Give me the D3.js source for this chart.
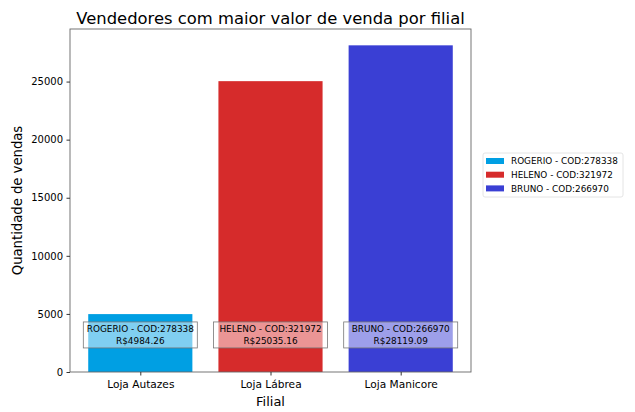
<!DOCTYPE html>
<html>
<head>
<meta charset="utf-8">
<script src="https://cdn.jsdelivr.net/npm/d3@7"></script>
<style>
  body { margin: 0; background: #fff; }
  text { font-family: "DejaVu Sans", sans-serif; fill: #000; }
</style>
</head>
<body>
<script>
var lojas = ['Loja Autazes', 'Loja Lábrea', 'Loja Manicore'];
var vendedores = ['ROGERIO - COD:278338', 'HELENO - COD:321972', 'BRUNO - COD:266970'];
var valores = [4984.26, 25035.16, 28119.09];
var cores = ['#009fe3', '#d62b2b', '#3a3fd4'];
var yTicks = [0, 5000, 10000, 15000, 20000, 25000];

var margin = { top: 29, left: 70 },
width = 401,
height = 343;

var svg = d3.select('body').
append('svg').
attr('width', 635).
attr('height', 412);

var g = svg.append('g').
attr('transform', 'translate(' + margin.left + ',' + margin.top + ')');

// same limits matplotlib gives a bar chart (5% margins)
var x = d3.scaleLinear().domain([-0.54, 2.54]).range([0, width]);
var y = d3.scaleLinear().domain([0, 28119.09 * 1.05]).range([height, 0]);
var barW = x(0.8) - x(0);

//bars
g.selectAll('.bar').
data(valores).
enter().
append('rect').
attr('class', 'bar').
attr('x', function (d, i) {return x(i) - barW / 2;}).
attr('y', function (d) {return y(d);}).
attr('width', barW).
attr('height', function (d) {return height - y(d);}).
style('fill', function (d, i) {return cores[i];});

//labels with boxes
var lab = g.selectAll('.lab').
data(valores).
enter().
append('g').
attr('class', 'lab').
attr('transform', function (d, i) {return 'translate(' + x(i) + ',' + y(3190) + ')';});

lab.append('rect').
attr('x', -57).
attr('y', -13).
attr('width', 114).
attr('height', 26).
style('fill', 'rgba(255,255,255,0.5)').
style('stroke', '#777').
style('stroke-width', 0.8);

lab.append('text').
attr('y', -3).
attr('text-anchor', 'middle').
style('font-size', '8.9px').
text(function (d, i) {return vendedores[i];});

lab.append('text').
attr('y', 9).
attr('text-anchor', 'middle').
style('font-size', '8.9px').
text(function (d) {return 'R$' + d.toFixed(2);});

//frame
g.append('rect').
attr('width', width).
attr('height', height).
style('fill', 'none').
style('stroke', '#666').
style('stroke-width', 0.9);

//y axis
var yAxis = g.append('g').
call(d3.axisLeft(y).tickValues(yTicks).tickSize(3.5).tickPadding(3.5).tickFormat(d3.format('d')));
yAxis.select('.domain').remove();
yAxis.selectAll('line').style('stroke', '#333');
yAxis.selectAll('text').style('font-size', '10px').style('font-family', 'DejaVu Sans');

//x axis
var xAxis = g.append('g').
attr('transform', 'translate(0,' + height + ')').
call(d3.axisBottom(x).tickValues([0, 1, 2]).tickSize(3.5).tickPadding(5).tickFormat(function (d) {return lojas[d];}));
xAxis.select('.domain').remove();
xAxis.selectAll('line').style('stroke', '#333');
xAxis.selectAll('text').style('font-size', '10.6px').style('font-family', 'DejaVu Sans');

//axis titles
svg.append('text').
attr('x', margin.left + width / 2).
attr('y', 406).
attr('text-anchor', 'middle').
style('font-size', '13px').
text('Filial');

svg.append('text').
attr('transform', 'translate(22,' + (margin.top + height / 2) + ') rotate(-90)').
attr('text-anchor', 'middle').
style('font-size', '13.2px').
text('Quantidade de vendas');

//title
svg.append('text').
attr('x', margin.left + width / 2).
attr('y', 24).
attr('text-anchor', 'middle').
style('font-size', '16.4px').
text('Vendedores com maior valor de venda por filial');

//legend
var legend = svg.append('g').
attr('transform', 'translate(483,153)');

legend.append('rect').
attr('width', 140).
attr('height', 44).
attr('rx', 2).
style('fill', '#fff').
style('stroke', '#ddd').
style('stroke-width', 0.8);

var item = legend.selectAll('.item').
data(vendedores).
enter().
append('g').
attr('class', 'item').
attr('transform', function (d, i) {return 'translate(3,' + (8 + i * 13.7) + ')';});

item.append('rect').
attr('y', -3).
attr('width', 18).
attr('height', 6).
style('fill', function (d, i) {return cores[i];});

item.append('text').
attr('x', 25).
attr('dy', '.35em').
style('font-size', '8.85px').
text(function (d) {return d;});
</script>
</body>
</html>
